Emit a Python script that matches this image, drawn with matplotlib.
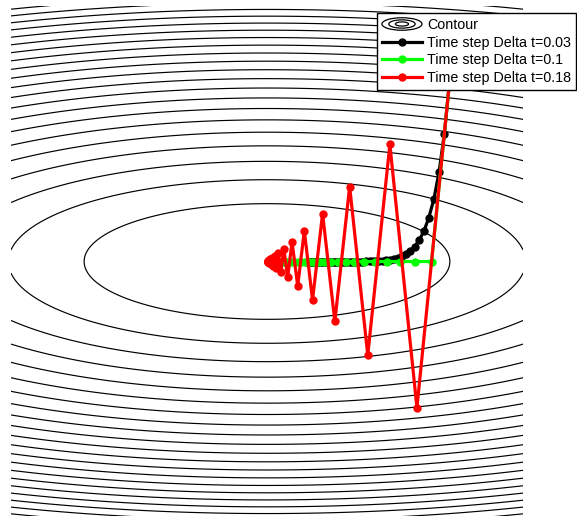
import numpy as np
import matplotlib
matplotlib.use("Agg")
import matplotlib.pyplot as plt
from matplotlib.legend_handler import HandlerBase
from matplotlib.patches import Ellipse

plt.rcParams['font.family'] = ['Liberation Sans', 'DejaVu Sans']

# quadratic bowl f(x, y) = 0.5 x^2 + 5 y^2 on [-1.4, 1.4]^2
grid_lim = 1.4
contour_levels = np.arange(0.5, 11.0, 0.5)

# gradient descent iterates for each time step
black_x = [1.0, 0.97, 0.941, 0.913, 0.885, 0.859, 0.833, 0.808, 0.784, 0.760,
           0.737, 0.715, 0.694, 0.673, 0.653, 0.633, 0.614, 0.596, 0.578, 0.561,
           0.544, 0.527, 0.512, 0.496, 0.481, 0.467, 0.453, 0.439, 0.426, 0.413,
           0.401, 0.389, 0.377, 0.366, 0.355, 0.344, 0.334, 0.324, 0.314, 0.305,
           0.296, 0.287, 0.278, 0.270, 0.262, 0.254, 0.246, 0.239, 0.232, 0.225,
           0.218]
black_y = [1.0, 0.7, 0.49, 0.343, 0.24, 0.168, 0.118, 0.082, 0.058, 0.04,
           0.028, 0.02, 0.014, 0.01, 0.007, 0.005, 0.003, 0.002, 0.002, 0.001,
           0.001] + [0.0] * 30

green_x = [1.0, 0.9, 0.81, 0.729, 0.656, 0.590, 0.531, 0.478, 0.430, 0.387,
           0.349, 0.314, 0.282, 0.254, 0.229, 0.206, 0.185, 0.167, 0.150, 0.135,
           0.122, 0.109, 0.098, 0.089, 0.080, 0.072, 0.065, 0.058, 0.052, 0.047,
           0.042, 0.038, 0.034, 0.031, 0.028, 0.025, 0.023, 0.020, 0.018, 0.016,
           0.015]
green_y = [1.0] + [0.0] * 40

red_x = [1.0, 0.82, 0.672, 0.551, 0.452, 0.371, 0.304, 0.249, 0.204, 0.168,
         0.137, 0.113, 0.092, 0.076, 0.062, 0.051, 0.042, 0.034, 0.028, 0.023,
         0.019, 0.015, 0.013, 0.010, 0.009, 0.007, 0.006, 0.005, 0.004, 0.003,
         0.003]
red_y = [1.0, -0.8, 0.64, -0.512, 0.41, -0.328, 0.262, -0.21, 0.168, -0.134,
         0.107, -0.086, 0.069, -0.055, 0.044, -0.035, 0.028, -0.023, 0.018, -0.014,
         0.012, -0.009, 0.007, -0.006, 0.005, -0.004, 0.003, -0.002, 0.002, -0.002,
         0.001]

labels = ['Contour', 'Time step Delta t=0.03', 'Time step Delta t=0.1',
          'Time step Delta t=0.18']


class ContourKey:
    pass


class ContourKeyHandler(HandlerBase):
    # little nest of ellipses as the legend key for the contour plot
    def create_artists(self, legend, orig_handle, xdescent, ydescent,
                       width, height, fontsize, trans):
        cx = width / 2 - xdescent
        cy = height / 2 - ydescent
        out = []
        for k in (1.0, 0.66, 0.33):
            e = Ellipse((cx, cy), width * k, height * 1.25 * k, fill=False,
                        edgecolor='k', lw=0.9, transform=trans)
            out.append(e)
        return out


fig = plt.figure(figsize=(5.77, 5.16), dpi=100)
ax = fig.add_axes([11 / 577, -1.5 / 516, 512 / 577, 512 / 516])

xs = np.linspace(-grid_lim, grid_lim, 561)
X, Y = np.meshgrid(xs, xs)
F = 0.5 * X ** 2 + 5 * Y ** 2
ax.contour(X, Y, F, levels=contour_levels, colors='k', linewidths=0.85)

l1, = ax.plot(black_x, black_y, '-o', color='k', lw=2.3, ms=5)
l2, = ax.plot(green_x, green_y, '-o', color=(0, 1, 0), lw=2.3, ms=5)
l3, = ax.plot(red_x, red_y, '-o', color=(1, 0, 0), lw=2.3, ms=5)

ax.set_xlim(-grid_lim, grid_lim)
ax.set_ylim(-grid_lim, grid_lim)
ax.set_aspect('equal', adjustable='box')
ax.axis('off')

leg = ax.legend([ContourKey(), l1, l2, l3], labels,
                handler_map={ContourKey: ContourKeyHandler()},
                loc='upper right', bbox_to_anchor=(576 / 577, 1 - 13 / 516),
                bbox_transform=fig.transFigure, borderaxespad=0,
                fontsize=10.3, handlelength=2.8, handletextpad=0.35,
                labelspacing=0.25, borderpad=0.35, fancybox=False,
                framealpha=1, edgecolor='k')
leg.get_frame().set_linewidth(1.0)

fig.savefig('out.png', dpi=100)
